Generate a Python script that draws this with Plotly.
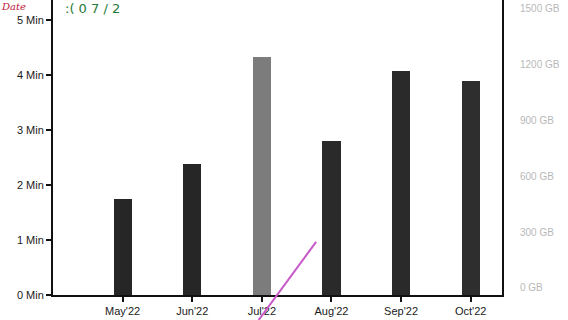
import plotly.graph_objects as go

months = ["May'22", "Jun'22", "Jul'22", "Aug'22", "Sep'22", "Oct'22"]
minutes = [1.75, 2.38, 4.33, 2.8, 4.07, 3.88]
bar_colors = ["#262626", "#262626", "#7c7c7c", "#2a2a2a", "#2a2a2a", "#2e2e2e"]
left_ticks = [0, 1, 2, 3, 4, 5]
left_labels = ["0 Min", "1 Min", "2 Min", "3 Min", "4 Min", "5 Min"]
right_ticks = [0, 300, 600, 900, 1200, 1500]
right_labels = ["0 GB", "300 GB", "600 GB", "900 GB", "1200 GB", "1500 GB"]

fig = go.Figure()
fig.add_trace(go.Bar(x=months, y=minutes, marker=dict(color=bar_colors, line=dict(width=0)),
                     width=0.26, showlegend=False))
fig.add_trace(go.Scatter(x=months, y=[None]*len(months), yaxis="y2", showlegend=False,
                         mode="markers", hoverinfo="skip"))

fig.update_layout(
    width=568, height=320,
    margin=dict(l=53, r=66, t=0, b=25),
    paper_bgcolor="white", plot_bgcolor="white",
    font=dict(family="Liberation Sans, Arial, sans-serif", color="#1a1a1a", size=11),
    xaxis=dict(type="category", range=[-1, 5.45], showline=True, linecolor="#111", linewidth=2,
               ticks="outside", ticklen=5, tickcolor="#111", tickwidth=2, showgrid=False,
               tickfont=dict(size=11, color="#1a1a1a")),
    yaxis=dict(range=[0, 5.36], tickvals=left_ticks, ticktext=left_labels, showline=True,
               linecolor="#111", linewidth=2, ticks="outside", ticklen=5, tickcolor="#111",
               tickwidth=2, showgrid=False, zeroline=False, tickfont=dict(size=11, color="#1a1a1a")),
    yaxis2=dict(overlaying="y", side="right", range=[-38, 1548], tickvals=right_ticks,
                ticktext=right_labels, showline=True, linecolor="#111", linewidth=2,
                showgrid=False, zeroline=False, ticks="", ticklabelstandoff=14,
                tickfont=dict(size=10, color="#b8b8b8")),
    bargap=0,
)

fig.add_annotation(text="Date", xref="paper", yref="paper", x=-0.118, y=1.0, xanchor="left",
                   yanchor="top", showarrow=False, borderpad=0,
                   font=dict(family="DejaVu Serif", size=10, color="#c0183a", style="italic"))
fig.add_annotation(text=":( 0 7 / 2", xref="paper", yref="paper", x=0.025, y=1.0, xanchor="left",
                   yanchor="top", showarrow=False, borderpad=0,
                   font=dict(family="DejaVu Sans", size=13, color="#1f7a3a"))
fig.add_shape(type="line", xref="paper", yref="paper", x0=0.458, y0=-0.085, x1=0.586, y1=0.18,
              line=dict(color="#c858c8", width=2))

fig.write_html("out.html")
